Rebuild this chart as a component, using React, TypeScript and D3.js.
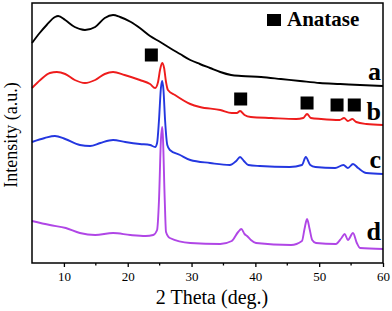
import React, { useEffect, useRef } from 'react';
import * as d3 from 'd3';

// 2-theta / intensity pairs (intensity in arbitrary units)
const curveA: [number, number][] = [
  [5, 220], [6.2, 230], [7.3, 238], [8.6, 246], [9.1, 247], [10.2, 243], [11.7, 236], [13.3, 233],
  [14.9, 236], [16.4, 245], [17.7, 248], [18.8, 246], [20.5, 241], [21.9, 235], [23.5, 227],
  [25.1, 221], [26.6, 215], [28.2, 209], [29.8, 203], [31.3, 199], [32.9, 195], [34.5, 191],
  [36.2, 188], [37.8, 187], [40.9, 186], [44, 184], [47, 182], [50.1, 180], [53.3, 179],
  [56.4, 178], [60, 177],
];

const curveB: [number, number][] = [
  [5, 175], [6.3, 183], [7.8, 190], [8.9, 191], [10.2, 189], [11.7, 183], [13.3, 180],
  [14.9, 183], [16.4, 189], [17.7, 191], [19.5, 188], [21.9, 183], [23.5, 179], [24.3, 175],
  [24.75, 181], [25.06, 193], [25.4, 200], [25.7, 195], [26.0, 181], [26.3, 173], [27.4, 168],
  [29.8, 159], [31.3, 156], [34.5, 153], [36.3, 150], [37.1, 150], [37.6, 152], [38.3, 148],
  [39.3, 146], [42.5, 145], [46.4, 144], [47.5, 145], [48.1, 149], [48.7, 145], [50.3, 144],
  [53.2, 143], [53.9, 145], [54.5, 142], [55.2, 144], [55.8, 141], [57.4, 139], [60, 138],
];

const curveC: [number, number][] = [
  [5, 121], [7, 125], [8.6, 127], [10.2, 124], [12.5, 118], [14.1, 117], [15.7, 120],
  [17.7, 123], [19.6, 121], [21.9, 119], [23.5, 118], [24.3, 116], [24.6, 120], [24.9, 143],
  [25.2, 175], [25.4, 182], [25.6, 173], [25.85, 143], [26.2, 118], [26.6, 113], [28.2, 108],
  [29.8, 103], [32.9, 100], [36.0, 98], [37.0, 102], [37.6, 106], [38.2, 102], [38.9, 98],
  [40.7, 97], [45.4, 96], [47.3, 98], [47.9, 106], [48.6, 98], [49.4, 96], [52.5, 95],
  [53.8, 98], [54.5, 95], [55.3, 99], [56.1, 95], [57.4, 90], [60, 89],
];

const curveD: [number, number][] = [
  [5, 42], [7.8, 38], [10.3, 35], [12.5, 30], [14.9, 28], [17.7, 30], [20.4, 28], [22.8, 27],
  [24.0, 28], [24.6, 33], [24.9, 63], [25.2, 123], [25.4, 136], [25.5, 128], [25.8, 63],
  [26.0, 31], [26.6, 25], [29.8, 20], [34.5, 19], [36.3, 22], [37.3, 31], [37.8, 34],
  [38.3, 29], [38.7, 27], [39.3, 23], [40.1, 20], [45.6, 18], [47.3, 22], [47.7, 34],
  [48.1, 44], [48.5, 34], [48.9, 23], [49.5, 20], [52.6, 19], [53.5, 25], [54.0, 29],
  [54.5, 23], [55.3, 30], [55.9, 20], [56.4, 15], [60, 14],
];

const seriesNames = ['a', 'b', 'c', 'd'];
const seriesColors = ['#000000', '#ee1c1c', '#2437e0', '#b046e6'];
const labelY = [183, 143, 95, 23];

// anatase reflections
const anataseX = [23.7, 37.7, 48.1, 52.8, 55.5];
const anataseY = [208, 164, 160, 158, 158];

const xTicks = [10, 20, 30, 40, 50, 60];
const xMinor = [15, 25, 35, 45, 55];

const XrdChart = () => {
  const ref = useRef<HTMLDivElement>(null);

  useEffect(() => {
    if (!ref.current) return;
    d3.select(ref.current).selectAll('*').remove();

    const W = 392, H = 311;
    const left = 32, right = 383, top = 3, bottom = 263;
    const font = '"Liberation Serif", "Times New Roman", serif';

    const svg = d3.select(ref.current)
      .append('svg')
      .attr('width', W)
      .attr('height', H)
      .style('position', 'absolute')
      .style('left', '0px')
      .style('top', '0px');

    const x = d3.scaleLinear().domain([5, 60]).range([left, right]);
    const y = d3.scaleLinear().domain([0, 260]).range([bottom, top]);

    const line = d3.line<[number, number]>()
      .x(d => x(d[0]))
      .y(d => y(d[1]))
      .curve(d3.curveMonotoneX);

    const curves = [curveA, curveB, curveC, curveD];
    curves.forEach((c, i) => {
      svg.append('path')
        .datum(c)
        .attr('fill', 'none')
        .attr('stroke', seriesColors[i])
        .attr('stroke-width', 1.9)
        .attr('stroke-linejoin', 'round')
        .attr('d', line);
    });

    // frame
    svg.append('rect')
      .attr('x', left).attr('y', top)
      .attr('width', right - left).attr('height', bottom - top)
      .attr('fill', 'none').attr('stroke', '#000').attr('stroke-width', 1.5);

    // x axis
    const xAxis = svg.append('g')
      .attr('transform', `translate(0,${bottom})`)
      .call(d3.axisBottom(x).tickValues(xTicks).tickSize(4).tickPadding(5).tickFormat(d3.format('d')));
    xAxis.select('.domain').remove();
    xAxis.selectAll('line').attr('stroke-width', 1.3);
    xAxis.selectAll('text').attr('font-family', font).attr('font-size', 13).attr('fill', '#000');

    svg.append('g')
      .selectAll('line')
      .data(xMinor)
      .enter().append('line')
      .attr('x1', d => x(d)).attr('x2', d => x(d))
      .attr('y1', bottom).attr('y2', bottom + 2.5)
      .attr('stroke', '#000').attr('stroke-width', 1.3);

    svg.append('text')
      .attr('x', 212).attr('y', 304)
      .attr('text-anchor', 'middle')
      .attr('font-family', font).attr('font-size', 20)
      .text('2 Theta (deg.)');

    svg.append('text')
      .attr('transform', 'translate(17,135) rotate(-90)')
      .attr('text-anchor', 'middle')
      .attr('font-family', font).attr('font-size', 18)
      .text('Intensity (a.u.)');

    // curve labels
    svg.selectAll('.lbl')
      .data(seriesNames)
      .enter().append('text')
      .attr('class', 'lbl')
      .attr('x', right - 2)
      .attr('y', (d, i) => y(labelY[i]))
      .attr('text-anchor', 'end')
      .attr('font-family', font).attr('font-weight', 'bold').attr('font-size', 26)
      .text(d => d);

    // anatase markers
    const s = 13;
    svg.selectAll('.mk')
      .data(anataseX)
      .enter().append('rect')
      .attr('class', 'mk')
      .attr('x', d => x(d) - s / 2)
      .attr('y', (d, i) => y(anataseY[i]) - s / 2)
      .attr('width', s).attr('height', s)
      .attr('fill', '#000');

    // legend
    svg.append('rect')
      .attr('x', 267).attr('y', 14).attr('width', 14).attr('height', 12).attr('fill', '#000');
    svg.append('text')
      .attr('x', 287).attr('y', 26)
      .attr('font-family', font).attr('font-weight', 'bold').attr('font-size', 21)
      .text('Anatase');
  }, []);

  return <div ref={ref} />;
};

export default function App() {
  return <XrdChart />;
}
